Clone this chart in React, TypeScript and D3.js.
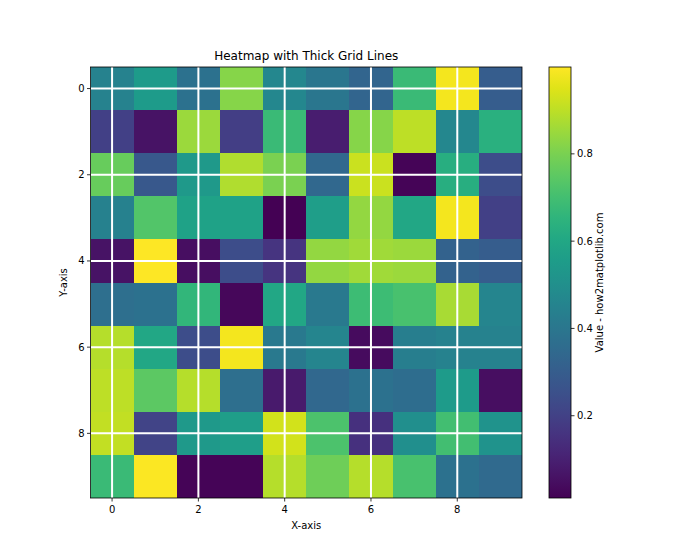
import React from "react";
import * as d3 from "d3";

const rowLabels = [0, 1, 2, 3, 4, 5, 6, 7, 8, 9];
const colLabels = [0, 1, 2, 3, 4, 5, 6, 7, 8, 9];
const row0 = [0.45, 0.55, 0.38, 0.82, 0.47, 0.4, 0.33, 0.68, 0.98, 0.3];
const row1 = [0.2, 0.06, 0.85, 0.19, 0.68, 0.09, 0.82, 0.9, 0.47, 0.64];
const row2 = [0.77, 0.28, 0.54, 0.88, 0.8, 0.34, 0.92, 0.02, 0.63, 0.24];
const row3 = [0.44, 0.73, 0.58, 0.58, 0.0115, 0.56, 0.84, 0.6, 0.98, 0.2];
const row4 = [0.06, 0.999, 0.05, 0.24, 0.16, 0.84, 0.86, 0.85, 0.32, 0.3];
const row5 = [0.37, 0.38, 0.66, 0.03, 0.6, 0.41, 0.69, 0.71, 0.87, 0.46];
const row6 = [0.89, 0.6, 0.24, 0.98, 0.41, 0.46, 0.04, 0.43, 0.45, 0.45];
const row7 = [0.9, 0.75, 0.89, 0.37, 0.08, 0.34, 0.38, 0.36, 0.55, 0.05];
const row8 = [0.91, 0.21, 0.54, 0.56, 0.93, 0.72, 0.15, 0.5, 0.7, 0.52];
const row9 = [0.68, 0.995, 0.02, 0.02, 0.89, 0.78, 0.89, 0.71, 0.38, 0.35];
const matrix = [row0, row1, row2, row3, row4, row5, row6, row7, row8, row9];
const axisTicks = [0, 2, 4, 6, 8];
const cbarTicks = [0.2, 0.4, 0.6, 0.8];

const FONT = "DejaVu Sans, sans-serif";

export default function App() {
  const left = 90.5, right = 522, top = 67, bottom = 498;
  const x = d3.scaleLinear().domain([-0.5, 9.5]).range([left, right]);
  const y = d3.scaleLinear().domain([-0.5, 9.5]).range([top, bottom]);
  const all = matrix.flat();
  const [vmin, vmax] = d3.extent(all) as [number, number];
  const color = d3.scaleSequential(d3.interpolateViridis).domain([vmin, vmax]);
  const cbL = 549, cbR = 571;
  const cy = d3.scaleLinear().domain([vmin, vmax]).range([bottom, top]);
  const stops = d3.range(0, 1.0001, 0.05);

  return (
    <svg width={700} height={560} style={{ position: "absolute", left: 0, top: 0 }} fontFamily={FONT}>
      <rect width={700} height={560} fill="white" />
      <text x={(left + right) / 2} y={60} textAnchor="middle" fontSize={12}>
        Heatmap with Thick Grid Lines
      </text>
      {matrix.map((row, i) =>
        row.map((v, j) => (
          <rect
            key={`${i}-${j}`}
            x={x(colLabels[j] - 0.5)}
            y={y(rowLabels[i] - 0.5)}
            width={x(colLabels[j] + 0.5) - x(colLabels[j] - 0.5) + 0.3}
            height={y(rowLabels[i] + 0.5) - y(rowLabels[i] - 0.5) + 0.3}
            fill={color(v)}
            shapeRendering="crispEdges"
          />
        ))
      )}
      {axisTicks.map((t) => (
        <g key={`g${t}`}>
          <line x1={x(t)} x2={x(t)} y1={top} y2={bottom} stroke="white" strokeWidth={2} />
          <line x1={left} x2={right} y1={y(t)} y2={y(t)} stroke="white" strokeWidth={2} />
        </g>
      ))}
      <rect x={left} y={top} width={right - left} height={bottom - top} fill="none" stroke="black" strokeWidth={0.8} />
      {axisTicks.map((t) => (
        <g key={`t${t}`}>
          <line x1={x(t)} x2={x(t)} y1={bottom} y2={bottom + 3.5} stroke="black" strokeWidth={0.8} />
          <text x={x(t)} y={bottom + 15} textAnchor="middle" fontSize={10}>{t}</text>
          <line x1={left} x2={left - 3.5} y1={y(t)} y2={y(t)} stroke="black" strokeWidth={0.8} />
          <text x={left - 6} y={y(t) + 3.5} textAnchor="end" fontSize={10}>{t}</text>
        </g>
      ))}
      <text x={(left + right) / 2} y={529} textAnchor="middle" fontSize={10}>X-axis</text>
      <text transform={`translate(67,${(top + bottom) / 2}) rotate(-90)`} textAnchor="middle" fontSize={10}>Y-axis</text>
      <defs>
        <linearGradient id="vir" x1="0" y1="1" x2="0" y2="0">
          {stops.map((s) => (
            <stop key={s} offset={s} stopColor={d3.interpolateViridis(s)} />
          ))}
        </linearGradient>
      </defs>
      <rect x={cbL} y={top} width={cbR - cbL} height={bottom - top} fill="url(#vir)" stroke="black" strokeWidth={0.8} />
      {cbarTicks.map((t) => (
        <g key={`c${t}`}>
          <line x1={cbR} x2={cbR + 3.5} y1={cy(t)} y2={cy(t)} stroke="black" strokeWidth={0.8} />
          <text x={cbR + 6} y={cy(t) + 3.5} fontSize={10}>{t.toFixed(1)}</text>
        </g>
      ))}
      <text transform={`translate(603,${(top + bottom) / 2}) rotate(-90)`} textAnchor="middle" fontSize={10}>
        Value - how2matplotlib.com
      </text>
    </svg>
  );
}
